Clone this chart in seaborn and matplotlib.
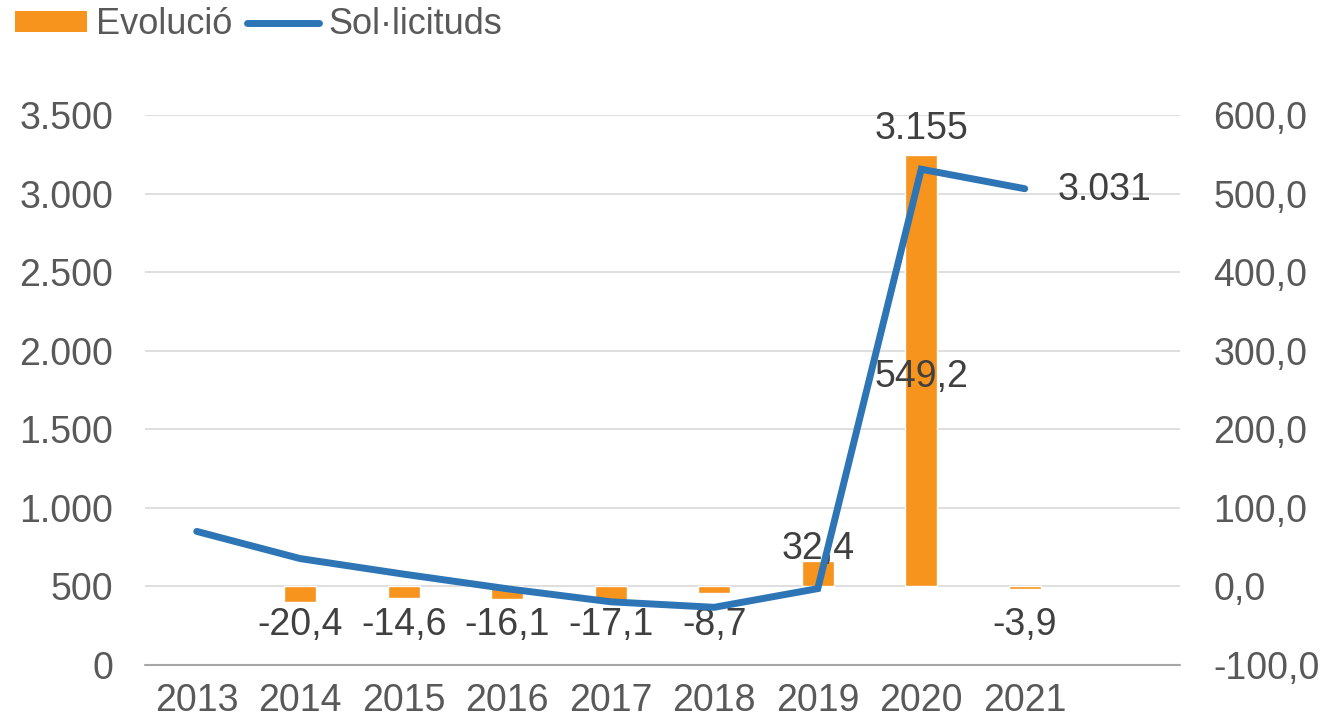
import matplotlib
matplotlib.use('Agg')
import matplotlib.pyplot as plt
import numpy as np
import seaborn as sns
from matplotlib.patches import Patch
from matplotlib.lines import Line2D

sns.set_theme(style='white')
plt.rcParams['font.family'] = ['Liberation Sans', 'DejaVu Sans']

# --- data ---
years = ['2013', '2014', '2015', '2016', '2017', '2018', '2019', '2020', '2021']
solicituds = [850, 677, 578, 485, 402, 367, 486, 3155, 3031]
evolucio = [np.nan, -20.4, -14.6, -16.1, -17.1, -8.7, 32.4, 549.2, -3.9]

orange = '#F7941D'
blue = '#2E75B6'
txt = '#404040'
tick_col = '#595959'
fs = 27


def fmt_thousands(v):
    return f'{v:,.0f}'.replace(',', '.')


def fmt_dec(v):
    return f'{v:.1f}'.replace('.', ',')


fig = plt.figure(figsize=(13.23, 7.21), dpi=100)
ax_bar = fig.add_axes([0.1096, 0.0777, 0.7823, 0.7628])
ax_line = ax_bar.twinx()

# bars (right scale)
sns.barplot(x=years, y=evolucio, order=years, color=orange, saturation=1,
            width=0.31, ax=ax_bar, zorder=2)
ax_bar.set_ylim(-100, 600)
ax_bar.set_yticks(np.arange(-100, 601, 100))
ax_bar.set_yticklabels([fmt_dec(v) for v in np.arange(-100, 601, 100)])
ax_bar.yaxis.tick_right()
ax_bar.yaxis.set_label_position('right')
ax_bar.grid(axis='y', color='#D9D9D9', linewidth=1.2, zorder=0)
ax_bar.set_axisbelow(True)

# line (left scale)
pos = np.arange(len(years))
sns.lineplot(x=pos, y=solicituds, color=blue, linewidth=5, ax=ax_line,
             solid_capstyle='round', solid_joinstyle='miter')
ax_line.set_ylim(0, 3500)
ax_line.set_yticks(np.arange(0, 3501, 500))
ax_line.set_yticklabels([fmt_thousands(v) for v in np.arange(0, 3501, 500)])
ax_line.yaxis.tick_left()
ax_line.yaxis.set_label_position('left')

ax_bar.set_xlim(-0.5, 9.5)
ax_bar.set_xticks(pos)
ax_bar.set_xticklabels(years)

for a in (ax_bar, ax_line):
    for s in a.spines.values():
        s.set_visible(False)
    a.set_xlabel('')
    a.set_ylabel('')
    a.tick_params(axis='both', length=0, labelsize=fs, labelcolor=tick_col)
ax_bar.tick_params(axis='y', pad=24)
ax_line.tick_params(axis='y', pad=23)
ax_bar.tick_params(axis='x', pad=13)

# bottom axis line at left-scale 0
ax_line.axhline(0, color='#A6A6A6', linewidth=1.5, clip_on=False)

# bar labels
for i, v in enumerate(evolucio):
    if np.isnan(v):
        continue
    if v < 0:
        y = -49
    elif v > 100:
        y = 266
    else:
        y = 47
    ax_bar.text(i, y, fmt_dec(v), ha='center', va='center', fontsize=fs, color=txt, zorder=5)

# line labels for the last two points
ax_line.text(7, 3410, fmt_thousands(solicituds[7]), ha='center', va='center', fontsize=fs, color=txt)
ax_line.text(8.32, 3025, fmt_thousands(solicituds[8]), ha='left', va='center', fontsize=fs, color=txt)

handles = [Patch(facecolor=orange, edgecolor='none'),
           Line2D([0], [0], color=blue, linewidth=5, solid_capstyle='round')]
fig.legend(handles, ['Evolució', 'Sol·licituds'], loc='upper left', bbox_to_anchor=(-0.005, 1.02),
           ncol=2, frameon=False, fontsize=26, handlelength=2.0, handleheight=0.5,
           handletextpad=0.25, columnspacing=0.4, borderaxespad=0.2, labelcolor=tick_col)

fig.savefig('out.png', dpi=100)
